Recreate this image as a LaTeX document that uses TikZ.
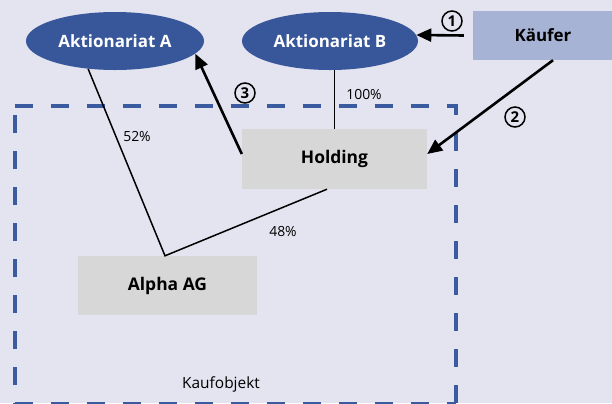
\documentclass[tikz,border=0pt]{standalone}
\usepackage{fontspec}
\setmainfont{Open Sans}
\usetikzlibrary{arrows.meta,shapes.geometric}
\definecolor{bgc}{RGB}{228,227,240}
\definecolor{ellblue}{RGB}{56,87,154}
\definecolor{kblue}{RGB}{166,179,213}
\definecolor{boxgray}{RGB}{215,215,215}
\definecolor{dashblue}{RGB}{58,91,160}
\begin{document}
\begin{tikzpicture}[x=1bp,y=-1bp,
  ell/.style={ellipse, fill=ellblue, draw=none, minimum width=178bp, minimum height=58bp, inner sep=0pt, text=white, font=\fontsize{17}{19}\selectfont\bfseries},
  box/.style={rectangle, fill=boxgray, draw=none, minimum width=185bp, minimum height=60bp, inner sep=0pt, font=\fontsize{17.5}{19}\selectfont\bfseries},
  thinline/.style={line width=1.5bp, black},
  arr/.style={line width=2.6bp, black, -{Triangle[length=15bp,width=13bp]}},
  num/.style={circle, draw=black, line width=1.5bp, minimum size=20bp, inner sep=0pt, font=\fontsize{15}{15}\selectfont\bfseries},
  pct/.style={inner sep=0pt, font=\fontsize{14}{16}\selectfont},
  frame/.style={dashblue, line width=3.3bp, dash pattern=on 18bp off 18bp}
]
\fill[bgc] (0,0) rectangle (612,403);
\useasboundingbox (0,0) rectangle (612,403);
% dashed frame
\draw[frame] (15,106) -- (456,106) -- (456,412);
\draw[frame] (15,115) -- (15,412);
\draw[frame] (15,404) -- (456,404);
% nodes
\node[ell] (A) at (115,41) {Aktionariat A};
\node[ell, minimum width=176bp] (B) at (330,41) {Aktionariat B};
\node[box, fill=kblue, minimum width=140bp, minimum height=49bp, font=\fontsize{17}{19}\selectfont\bfseries] (K) at (543,35.5) {Käufer};
\node[box] (H) at (334.5,159) {Holding};
\node[box, minimum width=179bp, minimum height=59bp] (P) at (167.5,285.5) {Alpha AG};
% labels
\node[pct] (l52) at (137,137) {52\%};
\node[pct] (l100) at (364,95) {100\%};
\node[pct] (l48) at (283,232) {48\%};
\node[pct, font=\fontsize{15.5}{18}\selectfont] (lkauf) at (221,384) {Kaufobjekt};
\node[num] (n1) at (452,21) {1};
\node[num] (n2) at (515,117) {2};
\node[num] (n3) at (245,93) {3};
% connectors
\draw[thinline] (H.north |- B.south) -- (H.north);
\draw[thinline] (A.-134) -- ([xshift=-2.5bp]P.north) -- ([xshift=-7.5bp]H.south);
\draw[arr] ([xshift=-9bp]K.west) -- (B.4);
\draw[arr] ([xshift=10bp]K.south) -- ([yshift=5bp]H.east);
\draw[arr] ([yshift=5bp]H.west) -- (A.-9);
\end{tikzpicture}
\end{document}
